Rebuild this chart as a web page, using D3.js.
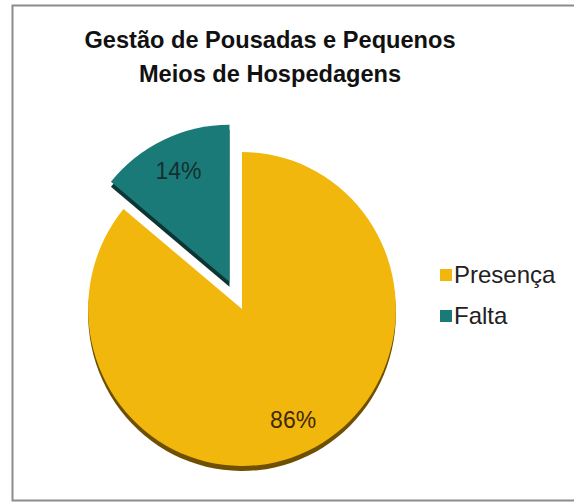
<!DOCTYPE html>
<html>
<head>
<meta charset="utf-8">
<script src="https://cdn.jsdelivr.net/npm/d3@7"></script>
<style>
  body { margin: 0; background: #fff; }
  text { font-family: "Liberation Sans", Arial, sans-serif; }
</style>
</head>
<body>
<div id="chart"></div>
<script>
// chart data
var categories = ["Presença", "Falta"];
var values = [86, 14];
var titleLines = ["Gestão de Pousadas e Pequenos", "Meios de Hospedagens"];

var width = 574, height = 502;
var colors = d3.scaleOrdinal().domain(categories).range(["#f2b70d", "#1a7a78"]);
var darkColors = d3.scaleOrdinal().domain(categories).range(["#6e5000", "#0c3634"]);

var svg = d3.select("#chart").append("svg")
    .attr("width", width)
    .attr("height", height);

// frame (right side runs off the picture)
svg.append("rect")
    .attr("x", 12.5)
    .attr("y", 5.5)
    .attr("width", 600)
    .attr("height", 495)
    .attr("fill", "#fff")
    .attr("stroke", "#8c8c8c")
    .attr("stroke-width", 2);

// title
svg.append("text")
    .attr("x", 270)
    .attr("y", 48)
    .attr("text-anchor", "middle")
    .style("font-size", "23.6px")
    .style("font-weight", "bold")
    .style("fill", "#111")
    .selectAll("tspan")
    .data(titleLines)
    .enter().append("tspan")
    .attr("x", 270)
    .attr("dy", function(d, i) { return i === 0 ? 0 : 34; })
    .text(function(d) { return d; });

// pie
var radius = 157;
var depth = 5;
var explode = 30;

var pie = d3.pie().sort(null).value(function(d) { return d; });
var arcs = pie(values);
arcs.forEach(function(d, i) { d.category = categories[i]; });

var arc = d3.arc().innerRadius(0).outerRadius(radius);
var labelArc = d3.arc().innerRadius(radius * 0.78).outerRadius(radius * 0.78);

var pieG = svg.append("g")
    .attr("transform", "translate(242,309) scale(0.98,1)");

function offset(d) {
    if (d.category !== "Falta") return [0, 0];
    var a = (d.startAngle + d.endAngle) / 2;
    return [Math.sin(a) * explode, -Math.cos(a) * explode];
}

var slices = pieG.selectAll(".slice")
    .data(arcs)
    .enter().append("g")
    .attr("class", "slice")
    .attr("transform", function(d) {
        var o = offset(d);
        return "translate(" + o[0] + "," + o[1] + ")";
    });

// side (depth) of each slice
slices.append("path")
    .attr("d", arc)
    .attr("transform", "translate(0," + depth + ")")
    .attr("fill", function(d) { return darkColors(d.category); });

// top face
slices.append("path")
    .attr("d", arc)
    .attr("fill", function(d) { return colors(d.category); });

slices.append("text")
    .attr("transform", function(d) {
        var c = labelArc.centroid(d);
        return "translate(" + c[0] + "," + c[1] + ") scale(1.02,1)";
    })
    .attr("text-anchor", "middle")
    .attr("dy", "0.35em")
    .style("font-size", "23px")
    .style("fill", function(d) { return d.category === "Falta" ? "#13302f" : "#3d2a05"; })
    .text(function(d) { return d.value + "%"; });

// legend
var legend = svg.append("g")
    .attr("transform", "translate(440,269)");

var items = legend.selectAll(".item")
    .data(categories)
    .enter().append("g")
    .attr("class", "item")
    .attr("transform", function(d, i) { return "translate(0," + i * 41 + ")"; });

items.append("rect")
    .attr("width", 12)
    .attr("height", 12)
    .attr("fill", function(d) { return colors(d); });

items.append("text")
    .attr("x", 14)
    .attr("y", 14)
    .style("font-size", "24px")
    .style("fill", "#222")
    .text(function(d) { return d; });
</script>
</body>
</html>
